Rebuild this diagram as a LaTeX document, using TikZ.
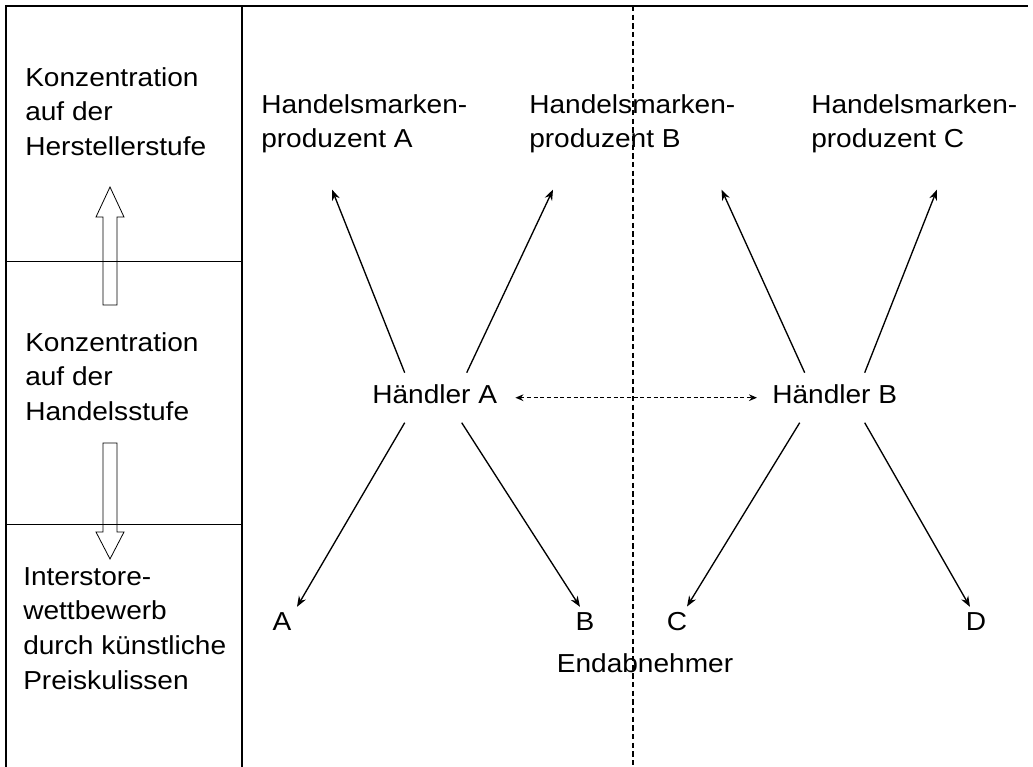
\documentclass[tikz,border=0pt]{standalone}
\usepackage{fontspec}
\setmainfont[FakeStretch=1.08]{Liberation Sans}
\usetikzlibrary{arrows.meta,calc}

\tikzset{
  lbl/.style={inner sep=0pt, align=left, anchor=north west},
  kunde/.style={inner sep=0pt, anchor=base},
  pfeil/.style={-{Stealth[length=8pt,width=6pt]}, line width=1pt},
  blockpfeil/.style={draw, line width=0.6pt},
}

\begin{document}
\begin{tikzpicture}[x=0.75pt,y=-0.75pt,font=\fontsize{19.5}{26.1}\selectfont]
\useasboundingbox (0,0) rectangle (1033,767);
% Rahmen und Spalte links
\draw[line width=0.8pt] (6,767) -- (6,6) -- (1028,6);
\draw[line width=0.8pt] (242,6) -- (242,767);
\draw[line width=0.6pt] (6,261) -- (242,261);
\draw[line width=0.6pt] (6,524) -- (242,524);
% Trennlinie
\draw[dash pattern=on 4pt off 2.5pt, line width=1.1pt] (633,6) -- (633,767);

% Blockpfeile
\draw[blockpfeil] (103,305) -- (103,217) -- (96,217) -- (110,187) -- (124,217)
  -- (117,217) -- (117,305) -- cycle;
\draw[blockpfeil] (103,443) -- (103,532) -- (96,532) -- (110,559) -- (124,532)
  -- (117,532) -- (117,443) -- cycle;

% Stufen
\node[lbl] (stufeH) at (25,67) {Konzentration\\auf der\\Herstellerstufe};
\node[lbl] (stufeD) at (25,332) {Konzentration\\auf der\\Handelsstufe};
\node[lbl] (inter) at (23,567) {Interstore-\\wettbewerb\\durch künstliche\\Preiskulissen};

% Hersteller
\node[lbl] (prodA) at (261,94) {Handelsmarken-\\produzent A};
\node[lbl] (prodB) at (529,94) {Handelsmarken-\\produzent B};
\node[lbl] (prodC) at (811,94) {Handelsmarken-\\produzent C};

% Haendler
\node[inner sep=0pt, anchor=base west] (hA) at (372,403) {Händler A};
\node[inner sep=0pt, anchor=base west] (hB) at (772,403) {Händler B};

% Endabnehmer
\node[kunde] (kA) at (282,630) {A};
\node[kunde] (kB) at (585,630) {B};
\node[kunde] (kC) at (677,630) {C};
\node[kunde] (kD) at (976,630) {D};
\node[kunde] (endabn) at (645,672) {Endabnehmer};

\draw[pfeil] ($(hA)+(-30,-21)$) -- ($(prodA.south west)+(71,36)$);
\draw[pfeil] ($(hA)+(32,-21)$) -- ($(prodB.south west)+(24,36)$);
\draw[pfeil] ($(hB)+(-30,-21)$) -- ($(prodB.south east)+(-14,36)$);
\draw[pfeil] ($(hB)+(30,-21)$) -- ($(prodC.south west)+(126,36)$);

\draw[pfeil] ($(hA)+(-30,29)$) -- ($(kA.north)+(15,-5)$);
\draw[pfeil] ($(hA)+(27,29)$) -- ($(kB.north)+(-5,-5)$);
\draw[pfeil] ($(hB)+(-35,29)$) -- ($(kC.north)+(10,-5)$);
\draw[pfeil] ($(hB)+(30,29)$) -- ($(kD.north)+(-6,-5)$);

\draw[{Stealth[length=6pt,width=5pt]}-{Stealth[length=6pt,width=5pt]},
  dash pattern=on 3pt off 2pt, line width=1pt]
  ($(hA.east)+(18,4)$) -- ($(hB.west)+(-15,4)$);
\end{tikzpicture}
\end{document}
